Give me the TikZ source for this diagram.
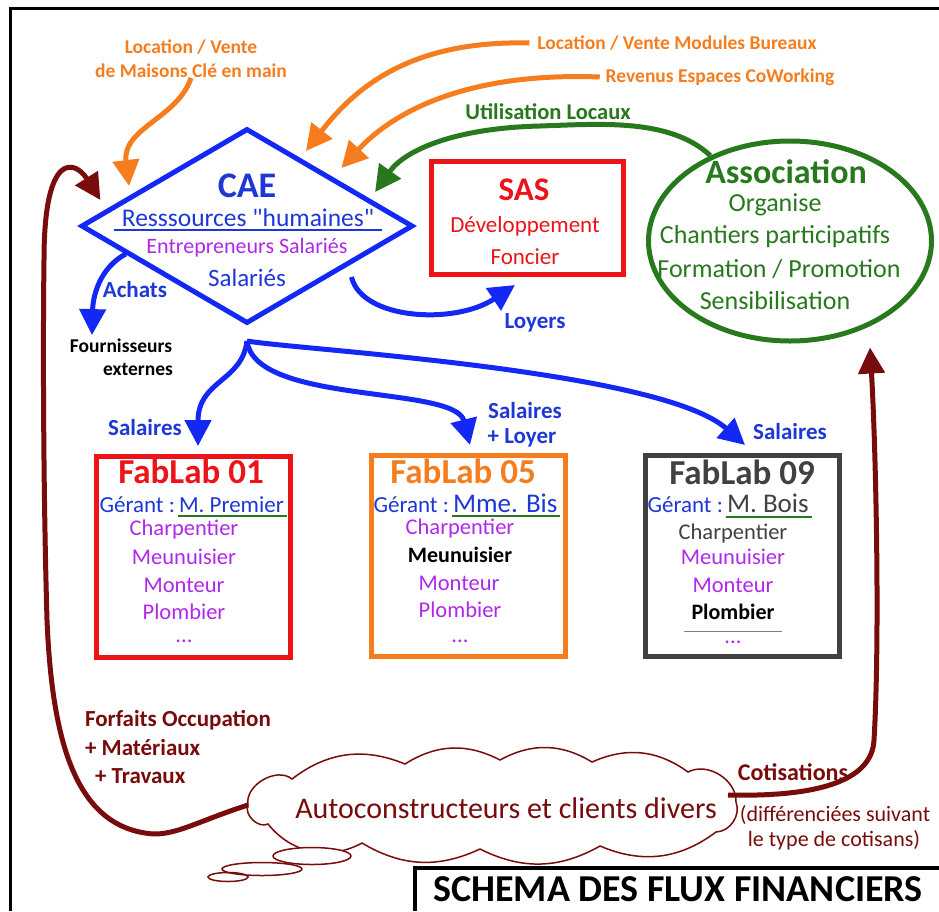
\documentclass[tikz,border=0pt]{standalone}
\usepackage{fontspec}
\setmainfont{Carlito}
\usetikzlibrary{arrows.meta,shapes.geometric,calc}
\definecolor{cblue}{RGB}{20,40,245}
\definecolor{tblue}{RGB}{30,55,215}
\definecolor{corange}{RGB}{245,125,30}
\definecolor{cgreen}{RGB}{40,120,30}
\definecolor{cred}{RGB}{235,20,25}
\definecolor{cpurple}{RGB}{175,40,235}
\definecolor{cdark}{RGB}{120,12,12}
\definecolor{cgray}{RGB}{65,65,65}
\newcommand\fsz[1]{\fontsize{#1}{#1}\selectfont}
\newcommand\sq{\XeTeXglyph\XeTeXcharglyph"22\relax}
\tikzset{
  txt/.style={inner sep=0pt, outer sep=0pt},
  arw/.style={line width=5pt, -{Triangle[length=26pt,width=26pt]}},
  orlbl/.style={txt, font=\fsz{19.5}\bfseries, text=corange},
  bllbl/.style={txt, font=\fsz{23}\bfseries, text=tblue},
  drlbl/.style={txt, font=\fsz{23}\bfseries, text=cdark},
  labbox/.style={line width=5pt, minimum width=194pt, minimum height=201pt, inner sep=0pt},
  labtitle/.style={txt, font=\fsz{35}\bfseries},
  job/.style={txt, font=\fsz{22.5}, text=cpurple},
  ger/.style={txt, font=\fsz{23}, text=tblue},
  puff/.style={draw=cdark, line width=1.5pt},
}
\begin{document}
\begin{tikzpicture}[x=1pt,y=-1pt]
\useasboundingbox (0,0) rectangle (939,911);
\fill[white] (0,0) rectangle (939,911);
% outer frame
\draw[line width=3pt] (10,911) -- (10,8) -- (939,8);

% CAE diamond
\node[diamond, draw=cblue, line width=5pt, minimum width=332pt, minimum height=195pt, inner sep=0pt] (cae) at (247,226) {};
\node[txt, font=\fsz{36}\bfseries, text=tblue] (caet) at (247,186) {CAE};
\node[txt, font=\fsz{25.5}, text=tblue] (res) at (248,218) {Resssources \sq humaines\sq};
\draw[tblue, line width=2pt] ($(res.base west)+(-8,3)$) -- ($(res.base east)+(8,3)$);
\node[txt, font=\fsz{22}, text=cpurple] (entr) at (247,248) {Entrepreneurs Salariés};
\node[txt, font=\fsz{25}, text=tblue] (salt) at (247,278) {Salariés};

% SAS
\node[draw=cred, line width=5pt, minimum width=192pt, minimum height=113pt, inner sep=0pt] (sas) at (527,218) {};
\node[txt, font=\fsz{33}\bfseries, text=cred] (sast) at (524,190) {SAS};
\node[txt, font=\fsz{23}, text=cred] (dev) at (525,226) {Développement};
\node[txt, font=\fsz{23}, text=cred] (fonc) at (525,257) {Foncier};

% Association
\node[ellipse, draw=cgreen, line width=5pt, minimum width=283pt, minimum height=200pt, inner sep=0pt] (assoc) at (790,241) {};
\node[txt, font=\fsz{34}\bfseries, text=cgreen] (asst) at (786,172) {Association};
\node[txt, font=\fsz{26}, text=cgreen] (org) at (775,205) {Organise};
\node[txt, font=\fsz{26}, text=cgreen] (chan) at (775,237) {Chantiers participatifs};
\node[txt, font=\fsz{26}, text=cgreen] (form) at (779,269) {Formation / Promotion};
\node[txt, font=\fsz{26}, text=cgreen] (sens) at (775,301) {Sensibilisation};

% top labels
\node[orlbl] (lv1) at (191,47) {Location / Vente};
\node[orlbl] (lv2) at (191,71) {de Maisons Clé en main};
\node[orlbl] (lmb) at (677,43) {Location / Vente Modules Bureaux};
\node[orlbl] (rec) at (720,77) {Revenus Espaces CoWorking};
\node[txt, font=\fsz{22.5}\bfseries, text=cgreen] (util) at (548,112) {Utilisation Locaux};

% blue labels
\node[bllbl] (achats) at (135,290) {Achats};
\node[bllbl] (loyers) at (535,323) {Loyers};
\node[bllbl] (sal1) at (145,428) {Salaires};
\node[bllbl] (sal2) at (525,411) {Salaires};
\node[bllbl] (loyer) at (522,438) {+ Loyer};
\node[bllbl] (sal3) at (790,432) {Salaires};
\node[txt, font=\fsz{19.5}\bfseries] (fourn) at (121,346) {Fournisseurs};
\node[txt, font=\fsz{19.5}\bfseries] (ext) at (138,369) {externes};

% FabLab 01
\node[labbox, draw=cred] (fl1) at (193,557) {};
\node[labtitle, text=cred] (fl1t) at (191,471) {FabLab 01};
\node[ger, anchor=base east] (g1) at (175,512) {Gérant :};
\node[ger, anchor=base west] (g1n) at (179,512) {M. Premier};
\draw[cgreen, line width=2pt] ($(g1n.base west)+(-1,4)$) -- ($(g1n.base east)+(3,4)$);
\node[job] (c1) at (184,529) {Charpentier};
\node[job] (m1) at (184,557) {Meunuisier};
\node[job] (o1) at (184,585) {Monteur};
\node[job] (p1) at (184,612) {Plombier};
\node[job] (d1) at (184,641) {...};

% FabLab 05
\node[labbox, draw=corange] (fl5) at (468,556) {};
\node[labtitle, text=corange] (fl5t) at (463,471) {FabLab 05};
\node[ger, anchor=base east] (g5) at (449,512) {Gérant :};
\node[ger, anchor=base west, font=\fsz{27}] (g5n) at (453,512) {Mme. Bis};
\draw[cgreen, line width=2pt] ($(g5n.base west)+(-1,4)$) -- ($(g5n.base east)+(3,4)$);
\node[job] (c5) at (460,528) {Charpentier};
\node[job, text=black, font=\fsz{22}\bfseries] (m5) at (460,555) {Meunuisier};
\node[job] (o5) at (459,583) {Monteur};
\node[job] (p5) at (460,610) {Plombier};
\node[job] (d5) at (460,641) {...};

% FabLab 09
\node[labbox, draw=cgray] (fl9) at (742,556) {};
\node[labtitle, text=cgray] (fl9t) at (742,472) {FabLab 09};
\node[ger, anchor=base east] (g9) at (723,512) {Gérant :};
\node[ger, anchor=base west, font=\fsz{27}, text=cgray] (g9n) at (727,512) {M. Bois};
\draw[cgreen, line width=2pt] ($(g9n.base west)+(-1,5)$) -- ($(g9n.base east)+(3,5)$);
\node[job, text=cgray] (c9) at (733,533) {Charpentier};
\node[job] (m9) at (733,557) {Meunuisier};
\node[job] (o9) at (733,585) {Monteur};
\node[job, text=black, font=\fsz{22}\bfseries] (p9) at (733,612) {Plombier};
\draw[gray, line width=1pt] ($(p9.base west)+(-8,12)$) -- ($(p9.base east)+(8,12)$);
\node[job] (d9) at (733,642) {...};

% cloud
\node[txt, minimum width=488pt, minimum height=88pt] (clients) at (492,805) {};
\draw[puff] (248,805) to[bend left=70] (292,779) to[bend left=30] (405,764)
  to[bend left=30] (500,760) to[bend left=30] (592,762) to[bend left=30] (688,772)
  to[bend left=60] (736,802) to[bend left=55] (716,832) to[bend left=30] (600,846)
  to[bend left=28] (480,849) to[bend left=28] (362,843) to[bend left=40] (268,824)
  to[bend left=70] cycle;
\node[txt, font=\fsz{30}, text=cdark] (clt) at (506,808) {Autoconstructeurs et clients divers};
\node[ellipse, puff, fill=white, minimum width=78pt, minimum height=17pt, inner sep=0pt] (e1) at (312,856) {};
\node[ellipse, puff, minimum width=80pt, minimum height=13pt, inner sep=0pt] (e2) at (262,869) {};
\node[ellipse, puff, minimum width=40pt, minimum height=9pt, inner sep=0pt] (e3) at (228,877) {};

% dark red labels
\node[drlbl, anchor=west] (forf) at (85,720) {Forfaits Occupation};
\node[drlbl, anchor=west] (mat) at (85,748) {+ Matériaux};
\node[drlbl, anchor=west] (trav) at (95,776) {+ Travaux};
\node[drlbl, font=\fsz{24}\bfseries] (cotis) at (793,772) {Cotisations};
\node[txt, font=\fsz{22}, text=cdark] (diff) at (835,815) {(différenciées suivant};
\node[txt, font=\fsz{22}, text=cdark] (typ) at (834,840) {le type de cotisans)};

% title
\draw[line width=4pt] (415,911) -- (415,868) -- (939,868);
\node[txt, font=\fsz{38}\bfseries] (title) at (678,889) {SCHEMA DES FLUX FINANCIERS};

% arrows
\draw[arw, corange] (lv2.south) .. controls (178,118) and (122,128) .. ($(cae.north)!0.7!(cae.west)+(0,-10)$);
\draw[arw, corange] ($(lmb.west)+(-8,0)$) .. controls (410,40) and (355,88) .. ($(cae.north)!0.35!(cae.east)+(0,-10)$);
\draw[arw, corange] ($(rec.west)+(-6,0)$) .. controls (470,72) and (395,110) .. ($(cae.north)!0.56!(cae.east)+(0,-14)$);
\draw[arw, cgreen] (assoc.133) .. controls (670,118) and (600,124) .. (540,126) .. controls (455,128) and (405,150) .. ($(cae.north)!0.76!(cae.east)+(0,-10)$);
\draw[arw, cblue] ($(cae.east)!0.38!(cae.south)+(0,13)$) .. controls (362,320) and (455,325) .. ($(sas.south)+(-12,8)$);
\draw[arw, cblue] ($(cae.west)!0.28!(cae.south)$) .. controls (100,268) and (93,295) .. ($(fourn.north west)+(22,-4)$);
\draw[arw, cblue] ($(cae.south)+(0,15)$) .. controls (242,382) and (198,380) .. ($(fl1.north)+(5,-8)$);
\draw[arw, cblue] ($(cae.south)+(0,15)$) .. controls (255,405) and (455,385) .. ($(fl5.north)+(2,-8)$);
\draw[arw, cblue] ($(cae.south)+(0,15)$) .. controls (300,350) and (660,370) .. ($(fl9.north)+(3,-8)$);
\draw[arw, cdark] (clients.west) .. controls (195,822) and (172,838) .. (145,833) .. controls (75,822) and (52,740) .. (47,620) .. controls (43,480) and (43,330) .. (44,260) .. controls (44,150) and (75,160) .. ($(cae.north)!0.87!(cae.west)+(0,-13)$);
\draw[arw, cdark] ($(clients.east)+(-8,-10)$) .. controls (815,797) and (872,782) .. (874,740) .. controls (880,640) and (876,450) .. ($(assoc.south)+(80,4)$);
\end{tikzpicture}
\end{document}
